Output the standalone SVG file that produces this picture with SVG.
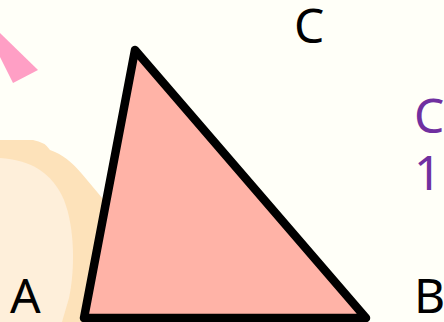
<svg xmlns="http://www.w3.org/2000/svg" width="444" height="322" viewBox="0 0 444 322">
  <style>
    .lbl { font-family: "Noto Sans", "Open Sans", sans-serif; font-size: 48px; fill: #000000; }
    .note { font-family: "Noto Sans", "Open Sans", sans-serif; font-size: 48px; fill: #7030a0; }
    .tri { fill: #ffb3a7; stroke: #000000; stroke-width: 8.5; stroke-linejoin: round; }
  </style>
  <rect x="0" y="0" width="444" height="322" fill="#fffff8"/>
  <g id="decor">
    <polygon points="0,33 38,70 13,83 0,57" fill="#ff9fc5"/>
    <path d="M0,140 L33,140 Q45,142 50,150 C62,154 72,162 82,174 L108,205 L112,322 L0,322 Z" fill="#fde2ba"/>
    <path d="M0,158 C30,160 52,172 64,200 C75,228 75,270 69,298 L62,322 L0,322 Z" fill="#feefda"/>
  </g>
  <g id="triangle">
    <polygon class="tri" points="135,50 84,318 366,318"/>
  </g>
  <g id="connectors"></g>
  <g id="label-C"><text class="lbl" x="294" y="43">C</text></g>
  <g id="label-A"><text class="lbl" x="10" y="313">A</text></g>
  <g id="label-B"><text class="lbl" x="414" y="313">B</text></g>
  <g id="note">
    <text class="note"><tspan x="414" y="133">C</tspan><tspan x="414" y="190">1</tspan></text>
  </g>
</svg>
